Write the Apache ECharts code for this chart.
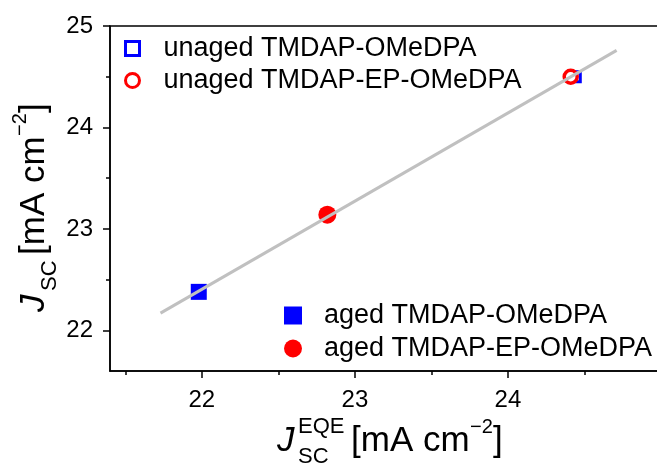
<!DOCTYPE html>
<html>
<head>
<meta charset="utf-8">
<script src="https://cdn.jsdelivr.net/npm/echarts@6/dist/echarts.min.js"></script>
<style>
  html, body { margin: 0; padding: 0; background: #ffffff; }
  #chart { width: 657px; height: 471px; }
</style>
</head>
<body>
<div id="chart"></div>
<script>
// Tick positions
const xMajorTicks = [22, 23, 24];
const xMinorTicks = [21.5, 22.5, 23.5, 24.5];
const yMajorTicks = [22, 23, 24, 25];
const yMinorTicks = [21.5, 22.5, 23.5, 24.5];

// Series names
const seriesNames = [
  'unaged TMDAP-OMeDPA',
  'unaged TMDAP-EP-OMeDPA',
  'aged TMDAP-OMeDPA',
  'aged TMDAP-EP-OMeDPA'
];

// [Jsc from EQE, Jsc from J-V] in mA cm^-2
const unagedOMeDPA = [[24.44, 24.50]];
const unagedEPOMeDPA = [[24.41, 24.50]];
const agedOMeDPA = [[21.98, 22.38]];
const agedEPOMeDPA = [[22.82, 23.14]];

// Linear guide through the data
const fitLine = [[21.73, 22.17], [24.71, 24.76]];

const FONT = "'Liberation Sans', Arial, sans-serif";
const BLUE = '#0000ff';
const RED = '#ff0000';

const gridBox = { left: 110, top: 26, right: -4, bottom: 100 };
const xRange = { min: 21.4, max: 25 };
const yRange = { min: 21.6, max: 25 };

const chart = echarts.init(document.getElementById('chart'), null, { renderer: 'canvas' });

// Builds one axis title out of separately placed pieces (main text, sub/superscripts)
function titlePieces(withEQE) {
  const big = { fontSize: 35, fontFamily: FONT, fill: '#000', verticalAlign: 'middle', align: 'left' };
  const small = { fontSize: 22, fontFamily: FONT, fill: '#000', verticalAlign: 'middle', align: 'left' };
  const afterSub = withEQE ? 74 : 57;
  const pieces = [
    { type: 'text', x: 0, y: 0, style: Object.assign({ text: 'J', fontStyle: 'italic' }, big) },
    { type: 'text', x: 21, y: 16, style: Object.assign({ text: 'SC' }, small) }
  ];
  if (withEQE) {
    pieces.push({ type: 'text', x: 21, y: -14, style: Object.assign({ text: 'EQE' }, small) });
  }
  pieces.push(
    { type: 'text', x: afterSub, y: 0, style: Object.assign({ text: '[mA cm' }, big) },
    { type: 'text', x: afterSub + 119, y: -14, style: Object.assign({ text: '−2' }, small, { fontSize: 20 }) },
    { type: 'text', x: afterSub + 142, y: 0, style: Object.assign({ text: ']' }, big) }
  );
  return pieces;
}

const option = {
  backgroundColor: '#ffffff',
  animation: false,
  grid: [
    Object.assign({ show: true, borderColor: '#000', borderWidth: 1.5, backgroundColor: 'transparent', outerBoundsMode: 'none', containLabel: false }, gridBox),
    Object.assign({ show: false, outerBoundsMode: 'none', containLabel: false }, gridBox)
  ],
  xAxis: [
    {
      type: 'value', gridIndex: 0, position: 'bottom',
      min: xRange.min, max: xRange.max,
      axisLine: { show: true, lineStyle: { color: '#000', width: 1.5 } },
      axisTick: { show: true, inside: false, length: 7, customValues: xMajorTicks, lineStyle: { color: '#000', width: 1.5 } },
      axisLabel: { show: true, customValues: xMajorTicks, margin: 17, color: '#000', fontSize: 24, fontFamily: FONT },
      splitLine: { show: false }
    },
    {
      type: 'value', gridIndex: 1, position: 'bottom',
      min: xRange.min, max: xRange.max,
      axisLine: { show: false },
      axisTick: { show: true, inside: false, length: 4, customValues: xMinorTicks, lineStyle: { color: '#000', width: 1.5 } },
      axisLabel: { show: false },
      splitLine: { show: false }
    }
  ],
  yAxis: [
    {
      type: 'value', gridIndex: 0, position: 'left',
      min: yRange.min, max: yRange.max,
      axisLine: { show: true, lineStyle: { color: '#000', width: 1.5 } },
      axisTick: { show: true, inside: false, length: 7, customValues: yMajorTicks, lineStyle: { color: '#000', width: 1.5 } },
      axisLabel: { show: true, customValues: yMajorTicks, margin: 17, color: '#000', fontSize: 24, fontFamily: FONT },
      splitLine: { show: false }
    },
    {
      type: 'value', gridIndex: 1, position: 'left',
      min: yRange.min, max: yRange.max,
      axisLine: { show: false },
      axisTick: { show: true, inside: false, length: 4, customValues: yMinorTicks, lineStyle: { color: '#000', width: 1.5 } },
      axisLabel: { show: false },
      splitLine: { show: false }
    }
  ],
  legend: [
    {
      data: [seriesNames[0], seriesNames[1]],
      orient: 'vertical', left: 124, top: 35, padding: 0,
      itemWidth: 14, itemHeight: 14, itemGap: 5,
      itemStyle: { borderWidth: 3 },
      textStyle: { fontSize: 27, color: '#000', fontFamily: FONT, padding: [0, 0, 0, 19] },
      selectedMode: false
    },
    {
      data: [seriesNames[2], seriesNames[3]],
      orient: 'vertical', left: 284, top: 302, padding: 0,
      itemWidth: 18, itemHeight: 18, itemGap: 6,
      textStyle: { fontSize: 27, color: '#000', fontFamily: FONT, padding: [0, 0, 0, 17] },
      selectedMode: false
    }
  ],
  series: [
    {
      name: seriesNames[0], type: 'scatter', xAxisIndex: 0, yAxisIndex: 0,
      symbol: 'rect', symbolSize: 10, data: unagedOMeDPA, z: 2,
      itemStyle: { color: '#ffffff', borderColor: BLUE, borderWidth: 3, opacity: 1 }
    },
    {
      name: seriesNames[1], type: 'scatter', xAxisIndex: 0, yAxisIndex: 0,
      symbol: 'circle', symbolSize: 13, data: unagedEPOMeDPA, z: 3,
      itemStyle: { color: '#ffffff', borderColor: RED, borderWidth: 3.5, opacity: 1 }
    },
    {
      name: seriesNames[2], type: 'scatter', xAxisIndex: 0, yAxisIndex: 0,
      symbol: 'rect', symbolSize: 16, data: agedOMeDPA, z: 2,
      itemStyle: { color: BLUE, opacity: 1 }
    },
    {
      name: seriesNames[3], type: 'scatter', xAxisIndex: 0, yAxisIndex: 0,
      symbol: 'circle', symbolSize: 18, data: agedEPOMeDPA, z: 2,
      itemStyle: { color: RED, opacity: 1 }
    },
    {
      name: 'fit', type: 'line', xAxisIndex: 0, yAxisIndex: 0,
      data: fitLine, symbol: 'none', z: 5, silent: true,
      lineStyle: { color: '#c0c0c0', width: 3 }
    }
  ],
  graphic: [
    // y-axis title, reading upwards
    { type: 'group', x: 34, y: 312, rotation: Math.PI / 2, children: titlePieces(false) },
    // x-axis title
    { type: 'group', x: 277, y: 441, children: titlePieces(true) }
  ]
};

chart.setOption(option);
</script>
</body>
</html>
